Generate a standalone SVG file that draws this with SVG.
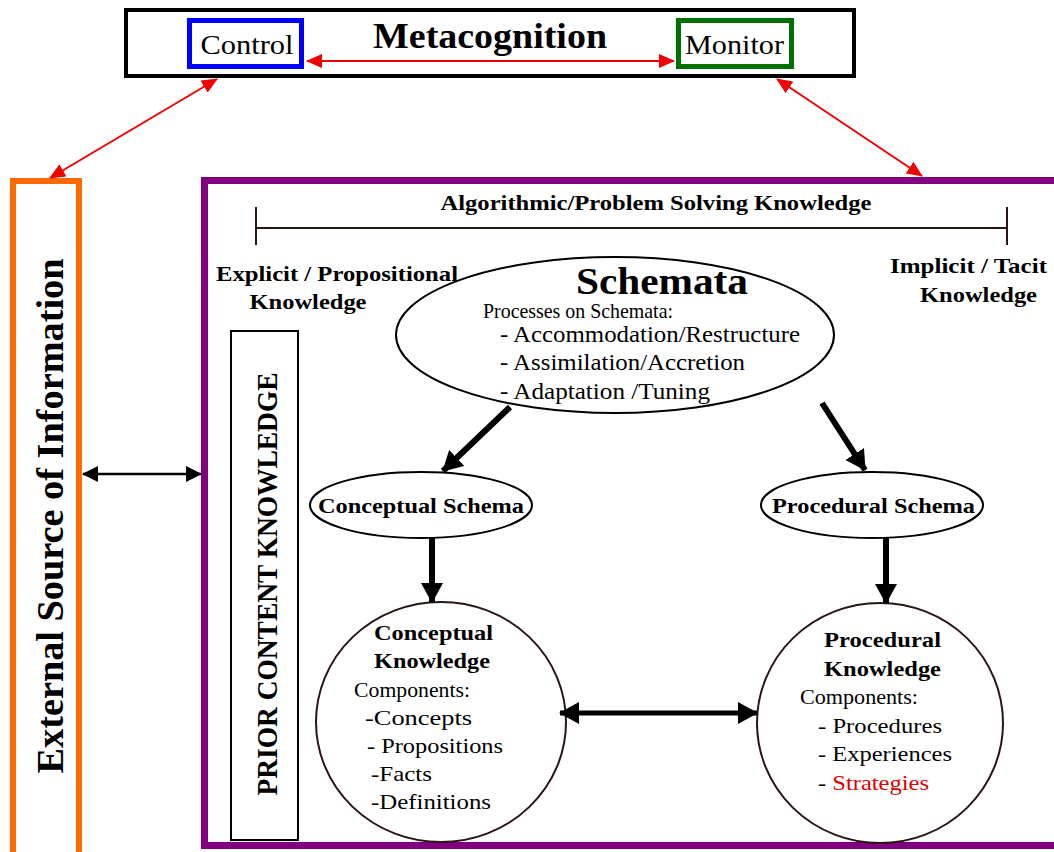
<svg xmlns="http://www.w3.org/2000/svg" width="1054" height="852" viewBox="0 0 1054 852">
<style>
text{font-family:"Liberation Serif","Times New Roman",serif;fill:#000}
.b{font-weight:bold}
.thin{fill:none;stroke:#2a1414;stroke-width:2}
</style>
<defs>
<marker id="rh" viewBox="0 0 16 14" refX="15" refY="7" markerWidth="16" markerHeight="14" markerUnits="userSpaceOnUse" orient="auto-start-reverse"><path d="M0,0 L16,7 L0,14 z" fill="#f00000"/></marker>
<marker id="kh" viewBox="0 0 16 16" refX="15" refY="8" markerWidth="16" markerHeight="16" markerUnits="userSpaceOnUse" orient="auto-start-reverse"><path d="M0,0 L16,8 L0,16 z" fill="#000"/></marker>
<marker id="th" viewBox="0 0 20 22" refX="19" refY="11" markerWidth="20" markerHeight="22" markerUnits="userSpaceOnUse" orient="auto-start-reverse"><path d="M0,0 L20,11 L0,22 z" fill="#000"/></marker>
</defs>
<rect width="1054" height="852" fill="#fff"/>

<g id="metacognition">
<rect x="126" y="10" width="728" height="66" fill="#fff" stroke="#000" stroke-width="4"/>
<text class="b" x="490" y="48" font-size="36" text-anchor="middle" textLength="234" lengthAdjust="spacingAndGlyphs">Metacognition</text>
</g>
<g id="control">
<rect x="189.500" y="20.500" width="112" height="46" fill="#fff" stroke="#0000ff" stroke-width="5"/>
<text x="247" y="54" font-size="27" text-anchor="middle" textLength="93" lengthAdjust="spacingAndGlyphs">Control</text>
</g>
<g id="monitor">
<rect x="678.500" y="20.500" width="113" height="46" fill="#fff" stroke="#007000" stroke-width="5"/>
<text x="734.500" y="54" font-size="27" text-anchor="middle" textLength="99" lengthAdjust="spacingAndGlyphs">Monitor</text>
</g>

<g id="external">
<rect x="13" y="181" width="66" height="680" fill="#fff" stroke="#ff6a00" stroke-width="6"/>
<text class="b" transform="translate(63,516) rotate(-90)" font-size="37" text-anchor="middle" textLength="515" lengthAdjust="spacingAndGlyphs">External Source of Information</text>
</g>

<g id="memory">
<rect x="204.500" y="180.500" width="860" height="665" fill="#fff" stroke="#800080" stroke-width="7"/>
</g>

<g id="algorithmic">
<line x1="256" y1="228" x2="1007" y2="228" class="thin"/>
<line x1="256" y1="207" x2="256" y2="245" class="thin"/>
<line x1="1007" y1="207" x2="1007" y2="245" class="thin"/>
<text class="b" x="656" y="210" font-size="21" text-anchor="middle" textLength="431" lengthAdjust="spacingAndGlyphs">Algorithmic/Problem Solving Knowledge</text>
</g>

<g id="explicit">
<text class="b" x="337" y="281" font-size="22" text-anchor="middle" textLength="242" lengthAdjust="spacingAndGlyphs">Explicit / Propositional</text>
<text class="b" x="308" y="309" font-size="22" text-anchor="middle" textLength="117" lengthAdjust="spacingAndGlyphs">Knowledge</text>
</g>
<g id="implicit">
<text class="b" x="968.500" y="273" font-size="22" text-anchor="middle" textLength="157" lengthAdjust="spacingAndGlyphs">Implicit / Tacit</text>
<text class="b" x="978.500" y="302" font-size="22" text-anchor="middle" textLength="117" lengthAdjust="spacingAndGlyphs">Knowledge</text>
</g>

<g id="prior">
<rect x="231" y="331" width="67" height="509" fill="#fff" stroke="#000" stroke-width="2"/>
<text class="b" transform="translate(277,584) rotate(-90)" font-size="29" text-anchor="middle" textLength="423" lengthAdjust="spacingAndGlyphs">PRIOR CONTENT KNOWLEDGE</text>
</g>

<g id="schemata">
<ellipse cx="615" cy="335" rx="219" ry="78" fill="#fff" stroke="#000" stroke-width="2"/>
<text class="b" x="662" y="294" font-size="38" text-anchor="middle" textLength="172" lengthAdjust="spacingAndGlyphs">Schemata</text>
<text x="483" y="318" font-size="22" textLength="190" lengthAdjust="spacingAndGlyphs">Processes on Schemata:</text>
<text x="500" y="342" font-size="23" textLength="300" lengthAdjust="spacingAndGlyphs">- Accommodation/Restructure</text>
<text x="500" y="370" font-size="23" textLength="245" lengthAdjust="spacingAndGlyphs">- Assimilation/Accretion</text>
<text x="500" y="399" font-size="23" textLength="210" lengthAdjust="spacingAndGlyphs">- Adaptation /Tuning</text>
</g>

<g id="conceptual-schema">
<ellipse cx="421" cy="505" rx="111" ry="33" fill="#fff" stroke="#000" stroke-width="2"/>
<text class="b" x="421" y="513" font-size="22" text-anchor="middle" textLength="206" lengthAdjust="spacingAndGlyphs">Conceptual Schema</text>
</g>
<g id="procedural-schema">
<ellipse cx="872" cy="505" rx="111" ry="33" fill="#fff" stroke="#000" stroke-width="2"/>
<text class="b" x="873.500" y="513" font-size="22" text-anchor="middle" textLength="203" lengthAdjust="spacingAndGlyphs">Procedural Schema</text>
</g>

<g id="conceptual-knowledge">
<ellipse cx="441" cy="722" rx="125" ry="120" fill="#fff" stroke="#2a1414" stroke-width="2"/>
<text class="b" x="433.500" y="640" font-size="22" text-anchor="middle" textLength="119" lengthAdjust="spacingAndGlyphs">Conceptual</text>
<text class="b" x="432" y="668" font-size="22" text-anchor="middle" textLength="116" lengthAdjust="spacingAndGlyphs">Knowledge</text>
<text x="354" y="697" font-size="22" textLength="116" lengthAdjust="spacingAndGlyphs">Components:</text>
<text x="365" y="725" font-size="22" textLength="107" lengthAdjust="spacingAndGlyphs">-Concepts</text>
<text x="367" y="753" font-size="22" textLength="136" lengthAdjust="spacingAndGlyphs">- Propositions</text>
<text x="371" y="781" font-size="22" textLength="61" lengthAdjust="spacingAndGlyphs">-Facts</text>
<text x="371" y="809" font-size="22" textLength="120" lengthAdjust="spacingAndGlyphs">-Definitions</text>
</g>

<g id="procedural-knowledge">
<ellipse cx="880" cy="723" rx="123" ry="120" fill="#fff" stroke="#2a1414" stroke-width="2"/>
<text class="b" x="882.500" y="647" font-size="22" text-anchor="middle" textLength="117" lengthAdjust="spacingAndGlyphs">Procedural</text>
<text class="b" x="882.500" y="676" font-size="22" text-anchor="middle" textLength="117" lengthAdjust="spacingAndGlyphs">Knowledge</text>
<text x="800" y="704" font-size="22" textLength="118" lengthAdjust="spacingAndGlyphs">Components:</text>
<text x="818" y="733" font-size="22" textLength="124" lengthAdjust="spacingAndGlyphs">- Procedures</text>
<text x="818" y="761" font-size="22" textLength="134" lengthAdjust="spacingAndGlyphs">- Experiences</text>
<text x="818" y="790" font-size="22" textLength="111" lengthAdjust="spacingAndGlyphs">- <tspan style="fill:#e00000">Strategies</tspan></text>
</g>

<g id="connectors">
<line x1="307" y1="61" x2="674" y2="61" stroke="#f00000" stroke-width="2" marker-start="url(#rh)" marker-end="url(#rh)"/>
<line x1="217" y1="79" x2="50" y2="178" stroke="#f00000" stroke-width="2" marker-start="url(#rh)" marker-end="url(#rh)"/>
<line x1="777" y1="79" x2="922" y2="176" stroke="#f00000" stroke-width="2" marker-start="url(#rh)" marker-end="url(#rh)"/>
<line x1="83" y1="474" x2="201" y2="474" stroke="#000" stroke-width="2.500" marker-start="url(#kh)" marker-end="url(#kh)"/>
<line x1="510" y1="407" x2="443" y2="471" stroke="#000" stroke-width="6" marker-end="url(#th)"/>
<line x1="822" y1="403" x2="865" y2="470" stroke="#000" stroke-width="6" marker-end="url(#th)"/>
<line x1="432" y1="538" x2="432" y2="602" stroke="#000" stroke-width="6" marker-end="url(#th)"/>
<line x1="886" y1="538" x2="886" y2="603" stroke="#000" stroke-width="6" marker-end="url(#th)"/>
<line x1="560" y1="713" x2="757" y2="713" stroke="#000" stroke-width="5" marker-start="url(#th)" marker-end="url(#th)"/>
</g>
</svg>
